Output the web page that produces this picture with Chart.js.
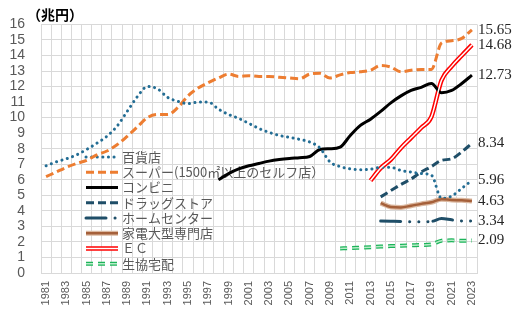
<!DOCTYPE html>
<html lang="ja">
<head>
<meta charset="UTF-8">
<title>業態別販売額の推移</title>
<script src="https://cdn.jsdelivr.net/npm/chart.js"></script>
<style>
  html, body { margin: 0; padding: 0; background: #fff; }
</style>
</head>
<body>
<canvas id="salesChart" width="516" height="323"></canvas>
<script>
const years = [
  '1981', '1982', '1983', '1984', '1985', '1986', '1987', '1988', '1989', '1990',
  '1991', '1992', '1993', '1994', '1995', '1996', '1997', '1998', '1999', '2000',
  '2001', '2002', '2003', '2004', '2005', '2006', '2007', '2008', '2009', '2010',
  '2011', '2012', '2013', '2014', '2015', '2016', '2017', '2018', '2019', '2020',
  '2021', '2022', '2023'
];

// 単位：兆円
const deptStore = [6.9, 7.15, 7.35, 7.6, 7.95, 8.35, 8.8, 9.45, 10.4, 11.35,
  12.0, 11.85, 11.3, 11.05, 10.9, 11.0, 11.0, 10.55, 10.2, 9.95,
  9.63, 9.3, 9.05, 8.85, 8.73, 8.6, 8.43, 8.05, 7.15, 6.85,
  6.7, 6.65, 6.68, 6.8, 6.8, 6.6, 6.5, 6.4, 6.3, 4.8,
  4.95, 5.45, 5.96];
const supermarket = [6.2, 6.5, 6.8, 7.05, 7.25, 7.6, 7.85, 8.25, 8.8, 9.4,
  10.0, 10.2, 10.2, 10.65, 11.4, 11.9, 12.25, 12.55, 12.8, 12.65,
  12.7, 12.65, 12.65, 12.6, 12.55, 12.5, 12.8, 12.85, 12.55, 12.75,
  12.9, 12.95, 13.05, 13.35, 13.25, 12.95, 13.05, 13.1, 13.1, 14.8,
  14.95, 15.1, 15.65];
const convenience = [null, null, null, null, null, null, null, null, null, null,
  null, null, null, null, null, null, null, 6.0, 6.4, 6.7,
  6.9, 7.05, 7.2, 7.3, 7.37, 7.42, 7.5, 7.95, 8.0, 8.1,
  8.85, 9.5, 9.9, 10.4, 10.95, 11.4, 11.75, 11.95, 12.2, 11.6,
  11.75, 12.2, 12.73];
const drugstore = [null, null, null, null, null, null, null, null, null, null,
  null, null, null, null, null, null, null, null, null, null,
  null, null, null, null, null, null, null, null, null, null,
  null, null, null, 4.9, 5.3, 5.7, 6.05, 6.5, 6.85, 7.25,
  7.35, 7.8, 8.34];
const homeCenter = [null, null, null, null, null, null, null, null, null, null,
  null, null, null, null, null, null, null, null, null, null,
  null, null, null, null, null, null, null, null, null, null,
  null, null, null, 3.34, 3.33, 3.32, 3.3, 3.3, 3.32, 3.5,
  3.42, 3.35, 3.34];
const electronics = [null, null, null, null, null, null, null, null, null, null,
  null, null, null, null, null, null, null, null, null, null,
  null, null, null, null, null, null, null, null, null, null,
  null, null, null, 4.5, 4.25, 4.22, 4.33, 4.45, 4.55, 4.75,
  4.7, 4.68, 4.63];
const ecSales = [null, null, null, null, null, null, null, null, null, null,
  null, null, null, null, null, null, null, null, null, null,
  null, null, null, null, null, null, null, null, null, null,
  null, null, 5.95, 6.75, 7.3, 8.05, 8.7, 9.35, 10.05, 12.4,
  13.3, 14.0, 14.68];
const coopDelivery = [null, null, null, null, null, null, null, null, null, null,
  null, null, null, null, null, null, null, null, null, null,
  null, null, null, null, null, null, null, null, null, 1.58,
  1.6, 1.63, 1.66, 1.7, 1.73, 1.76, 1.78, 1.8, 1.84, 2.08,
  2.1, 2.08, 2.09];

const tickColor = '#595959';
const gridColor = '#d9d9d9';

// 凡例（グラフ内に手書き）
const lineLegend = {
  id: 'lineLegend',
  beforeDatasetsDraw(chart) {
    const ctx = chart.ctx;
    const all = chart.data.datasets;
    let y = 157;
    ctx.save();
    ctx.font = '13px "Noto Sans CJK JP", sans-serif';
    ctx.textBaseline = 'middle';
    all.forEach(ds => {
      if (ds.inner) return;
      const parts = [ds].concat(all.filter(d => d.inner === ds.label));
      parts.forEach(d => {
        ctx.beginPath();
        ctx.strokeStyle = d.borderColor;
        ctx.lineWidth = d.borderWidth;
        ctx.lineCap = d.borderCapStyle || 'butt';
        ctx.setLineDash(d.borderDash || []);
        ctx.moveTo(86, y);
        ctx.lineTo(118, y);
        ctx.stroke();
      });
      ctx.setLineDash([]);
      ctx.fillStyle = tickColor;
      ctx.fillText(ds.label, 122, y);
      y += 15.25;
    });
    ctx.restore();
  }
};

// 右端の数値と単位
const endLabels = {
  id: 'endLabels',
  afterDatasetsDraw(chart) {
    const ctx = chart.ctx;
    ctx.save();
    ctx.font = '15px "Liberation Serif", serif';
    ctx.fillStyle = '#262626';
    ctx.textBaseline = 'middle';
    chart.data.datasets.forEach((ds, i) => {
      if (ds.inner) return;
      const pts = chart.getDatasetMeta(i).data;
      const last = pts[pts.length - 1];
      const v = ds.data[ds.data.length - 1];
      ctx.fillText(v.toFixed(2), chart.chartArea.right + 1, last.y);
    });
    ctx.font = 'bold 14px "Noto Sans CJK JP", sans-serif';
    ctx.fillStyle = '#000';
    ctx.fillText('（兆円）', 27, 15);
    ctx.restore();
  }
};

const base = { pointRadius: 0, fill: false, cubicInterpolationMode: 'monotone', order: 1 };
const homeDash = [20, 9, 0.1, 9, 0.1, 9, 0.1, 5];
const coopDash = [7, 5];

new Chart(document.getElementById('salesChart'), {
  type: 'line',
  data: {
    labels: years,
    datasets: [
      { ...base, label: '百貨店', data: deptStore, borderColor: '#236d94', borderWidth: 3,
        borderDash: [0.1, 5.5], borderCapStyle: 'round' },
      { ...base, label: 'スーパー(1500㎡以上のセルフ店）', data: supermarket, borderColor: '#ed7d31',
        borderWidth: 3, borderDash: [8, 4] },
      { ...base, label: 'コンビニ', data: convenience, borderColor: '#000000', borderWidth: 3 },
      { ...base, label: 'ドラッグストア', data: drugstore, borderColor: '#1f4e68', borderWidth: 3,
        borderDash: [8, 4] },
      { ...base, label: 'ホームセンター', data: homeCenter, borderColor: '#1f4e68', borderWidth: 3,
        borderDash: homeDash, borderCapStyle: 'round' },
      { ...base, label: '家電大型専門店', data: electronics, borderColor: '#dbb8a0', borderWidth: 5 },
      { ...base, label: 'ＥＣ', data: ecSales, borderColor: '#ff0000', borderWidth: 4.5 },
      { ...base, label: '生協宅配', data: coopDelivery, borderColor: '#1db45a', borderWidth: 4,
        borderDash: coopDash },
      // 二重線の内側
      { ...base, inner: '家電大型専門店', data: electronics, borderColor: '#a5603a', borderWidth: 2.5, order: 0 },
      { ...base, inner: 'ＥＣ', data: ecSales, borderColor: '#ffffff', borderWidth: 1.5, order: 0 },
      { ...base, inner: '生協宅配', data: coopDelivery, borderColor: '#b8ebc8', borderWidth: 1.5,
        borderDash: coopDash, order: 0 }
    ]
  },
  options: {
    responsive: false,
    animation: false,
    layout: { padding: { top: 5, right: 39, left: 0, bottom: 0 } },
    plugins: {
      legend: { display: false },
      tooltip: { enabled: false }
    },
    scales: {
      x: {
        offset: true,
        grid: { offset: true, color: gridColor, drawTicks: false },
        border: { color: gridColor },
        ticks: {
          autoSkip: false,
          minRotation: 90,
          maxRotation: 90,
          padding: 8,
          color: tickColor,
          font: { size: 11, family: '"Liberation Sans", Arial, sans-serif' },
          callback: function(value, index) {
            return index % 2 === 0 ? this.getLabelForValue(value) : '';
          }
        },
        afterFit: s => { s.height = 50; }
      },
      y: {
        min: 0,
        max: 16,
        grid: { color: gridColor, drawTicks: false },
        border: { color: gridColor },
        ticks: {
          stepSize: 1,
          autoSkip: false,
          padding: 16,
          color: tickColor,
          font: { size: 14, family: '"Liberation Sans", Arial, sans-serif' }
        },
        afterFit: s => { s.width = 41; }
      }
    }
  },
  plugins: [lineLegend, endLabels]
});
</script>
</body>
</html>
